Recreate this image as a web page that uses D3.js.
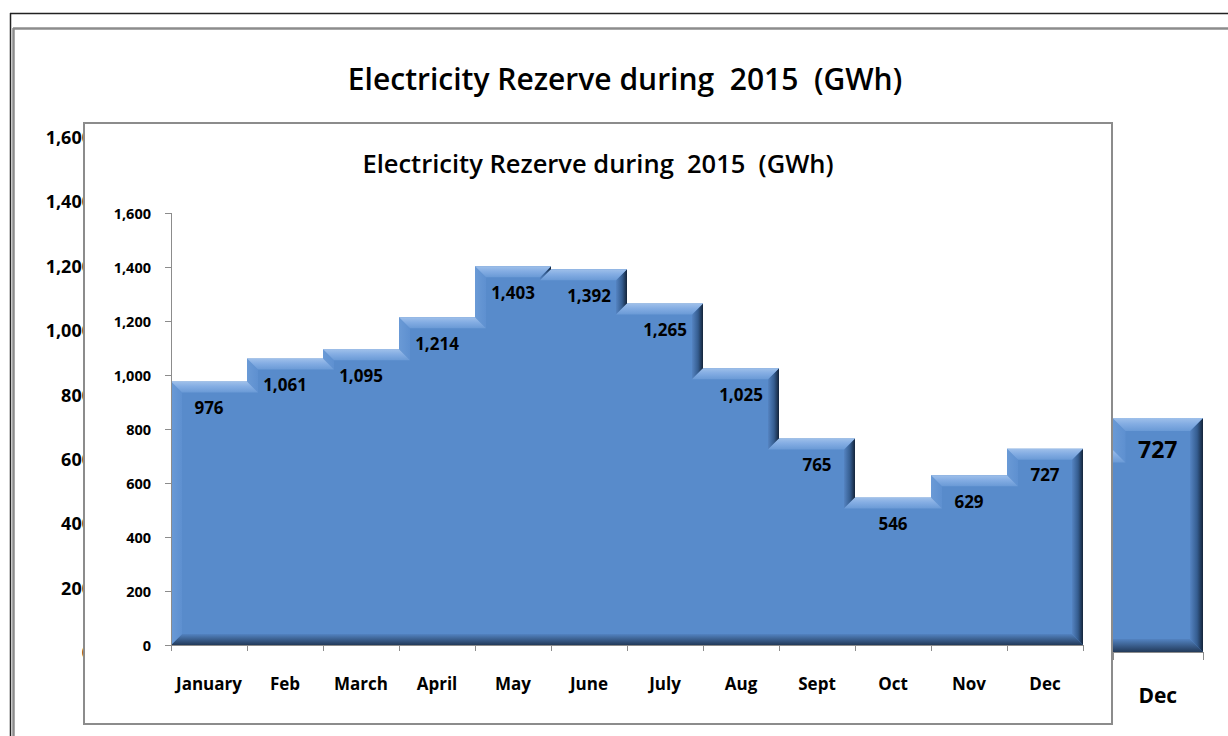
<!DOCTYPE html>
<html><head><meta charset="utf-8">
<script src="https://cdn.jsdelivr.net/npm/d3@7/dist/d3.min.js"></script>
<style>
html,body{margin:0;padding:0;background:#fff;}
svg{display:block;font-family:"Open Sans",Lato,sans-serif;}
text{white-space:pre;}
</style></head>
<body>
<svg id="c" width="1228" height="736"></svg>
<script>
const months = ["January","Feb","March","April","May","June","July","Aug","Sept","Oct","Nov","Dec"];
const reserve = [976,1061,1095,1214,1403,1392,1265,1025,765,546,629,727];
const yTicks = [0,200,400,600,800,1000,1200,1400,1600];
const titleText = "Electricity Rezerve during  2015  (GWh)";

const svg = d3.select("#c");
const defs = svg.append("defs");
function lin(id, x2, y2, stops){
  const g = defs.append("linearGradient").attr("id", id)
    .attr("x1",0).attr("y1",0).attr("x2",x2).attr("y2",y2);
  stops.forEach(s=>g.append("stop").attr("offset",s[0]).attr("stop-color",s[1]));
}
lin("gTop",0,1,[[0,"#9fc0ea"],[0.45,"#84ade3"],[1,"#6a9ad6"]]);
lin("gRight",1,0,[[0,"#5584c2"],[0.55,"#355d90"],[1,"#14243a"]]);
lin("gBottom",0,1,[[0,"#5383c1"],[1,"#223a5a"]]);
lin("gLeft",1,0,[[0,"#6a9ad6"],[1,"#5e90d0"]]);
defs.append("clipPath").attr("id","outerYClip").append("rect")
  .attr("x",0).attr("y",0).attr("width",84).attr("height",736);

const fmt = d3.format(",");
const MAIN = "#588bcb";

// frame of the inner chart: outer-chart texts that fall under it are not drawn
const innerFrame = {x:84, y:123, w:1028, h:601};
const covered = (px, py) => px > innerFrame.x && px < innerFrame.x+innerFrame.w &&
                            py > innerFrame.y && py < innerFrame.y+innerFrame.h;

function drawChart(g, o){
  const x = d3.scaleBand().domain(months).range([o.xl, o.xr]).padding(0);
  const y = d3.scaleLinear().domain([0,1600]).range([o.y0, o.y1]);
  const b = o.bevel;
  const bw = x.bandwidth();
  const Y0 = y(0);
  const data = reserve.map((v,i)=>({m:months[i], v, i}));
  const P = pts => pts.map(p=>p.join(",")).join(" ");
  const vis = o.hideCovered ? (px,py)=>!covered(px,py) : ()=>true;

  g.append("g").selectAll("rect").data(data).join("rect")
    .attr("x", d=>x(d.m)).attr("y", d=>y(d.v))
    .attr("width", bw).attr("height", d=>Y0-y(d.v))
    .attr("fill", MAIN);

  g.append("g").selectAll("polygon").data(data).join("polygon")
    .attr("fill","url(#gBottom)")
    .attr("points", d=>{
      const x0=x(d.m), x1=x0+bw;
      const l = d.i===0 ? x0+b : x0, r = d.i===data.length-1 ? x1-b : x1;
      return P([[x0,Y0],[x1,Y0],[r,Y0-b],[l,Y0-b]]);
    });

  g.append("g").selectAll("polygon").data(data.filter(d=>d.i===0 || reserve[d.i-1] < d.v)).join("polygon")
    .attr("fill","url(#gLeft)")
    .attr("points", d=>{
      const x0=x(d.m), yt=y(d.v);
      if(d.i===0) return P([[x0,yt],[x0+b,yt+b],[x0+b,Y0-b],[x0,Y0]]);
      const yp = y(reserve[d.i-1]);
      return P([[x0,yt],[x0+b,yt+b],[x0+b,yp+b],[x0,yp]]);
    });

  g.append("g").selectAll("polygon").data(data.filter(d=>d.i===data.length-1 || reserve[d.i+1] < d.v)).join("polygon")
    .attr("fill","url(#gRight)")
    .attr("points", d=>{
      const x1=x(d.m)+bw, yt=y(d.v);
      if(d.i===data.length-1) return P([[x1,yt],[x1,Y0],[x1-b,Y0-b],[x1-b,yt+b]]);
      const yn = y(reserve[d.i+1]);
      return P([[x1,yt],[x1,yn],[x1-b,yn+b],[x1-b,yt+b]]);
    });

  g.append("g").selectAll("polygon").data(data).join("polygon")
    .attr("fill","url(#gTop)")
    .attr("points", d=>{
      const x0=x(d.m), x1=x0+bw, yt=y(d.v);
      const prev = d.i>0 ? reserve[d.i-1] : null;
      const next = d.i<data.length-1 ? reserve[d.i+1] : null;
      const lb = (prev===null || prev < d.v) ? x0+b : x0-b;
      const rb = (next===null || next < d.v) ? x1-b : x1+b;
      return P([[x0,yt],[x1,yt],[rb,yt+b],[lb,yt+b]]);
    });

  g.append("g").selectAll("text").data(data.filter(d=>vis(x(d.m)+bw/2, y(d.v)+o.labOff))).join("text")
    .attr("x", d=>x(d.m)+bw/2).attr("y", d=>y(d.v)+o.labOff)
    .attr("text-anchor","middle").attr("dominant-baseline","central")
    .attr("font-size", o.labSize).attr("font-weight",700).attr("fill","#000")
    .text(d=>fmt(d.v));

  const ax = g.append("g").attr("stroke","#8c8c8c").attr("stroke-width",1).attr("fill","none");
  ax.append("line").attr("x1",o.xl+0.5).attr("x2",o.xl+0.5).attr("y1",y(1600)).attr("y2",Y0);
  ax.append("line").attr("x1",o.xl).attr("x2",o.xr).attr("y1",Y0+0.5).attr("y2",Y0+0.5);
  ax.selectAll(".yt").data(yTicks).join("line").attr("class","yt")
    .attr("x1",o.xl-o.tick).attr("x2",o.xl).attr("y1",d=>Math.round(y(d))+0.5).attr("y2",d=>Math.round(y(d))+0.5);
  const bounds = months.map(m=>x(m)).concat([o.xr]);
  ax.selectAll(".xt").data(bounds).join("line").attr("class","xt")
    .attr("x1",d=>Math.round(d)+0.5).attr("x2",d=>Math.round(d)+0.5).attr("y1",Y0).attr("y2",Y0+o.tick);

  const yl = g.append("g");
  if(o.hideCovered) yl.attr("clip-path","url(#outerYClip)");
  yl.selectAll("text").data(yTicks).join("text")
    .attr("x", o.xl-o.yLabGap).attr("y", d=>y(d))
    .attr("text-anchor","end").attr("dominant-baseline","central")
    .attr("font-size", o.yLabSize).attr("font-weight",700).attr("fill","#000")
    .text(d=>fmt(d));

  g.append("g").selectAll("text").data(months.filter(m=>vis(x(m)+bw/2, o.xLabY))).join("text")
    .attr("x", m=>x(m)+bw/2).attr("y", o.xLabY)
    .attr("text-anchor","middle").attr("dominant-baseline","central")
    .attr("font-size", o.xLabSize).attr("font-weight",700).attr("fill","#000")
    .text(m=>m);

  g.append("text").attr("x", o.titleX).attr("y", o.titleY)
    .attr("text-anchor","middle").attr("dominant-baseline","central")
    .attr("font-size", o.titleSize).attr("font-weight",600).attr("fill","#000")
    .text(titleText);
}

// page frames
svg.append("line").attr("x1",10).attr("x2",1228).attr("y1",13.5).attr("y2",13.5).attr("stroke","#222").attr("stroke-width",1.5);
svg.append("line").attr("x1",10.5).attr("x2",10.5).attr("y1",13).attr("y2",736).attr("stroke","#222").attr("stroke-width",1.5);
svg.append("line").attr("x1",13).attr("x2",1228).attr("y1",28.5).attr("y2",28.5).attr("stroke","#8c8c8c").attr("stroke-width",2.5);
svg.append("line").attr("x1",13.5).attr("x2",13.5).attr("y1",28).attr("y2",736).attr("stroke","#8c8c8c").attr("stroke-width",2.5);

// outer (background) chart
drawChart(svg.append("g"), {
  xl:117, xr:1203, y0:652, y1:137, bevel:13, tick:8, hideCovered:true,
  labOff:31, labSize:23, yLabSize:18, yLabGap:25, xLabSize:21, xLabY:695,
  titleX:625, titleY:78, titleSize:30
});

// inner chart frame
svg.append("rect").attr("x",innerFrame.x).attr("y",innerFrame.y)
  .attr("width",innerFrame.w).attr("height",innerFrame.h)
  .attr("fill","#fff").attr("stroke","#8c8c8c").attr("stroke-width",2);

drawChart(svg.append("g"), {
  xl:171, xr:1083, y0:645, y1:213, bevel:11, tick:6, hideCovered:false,
  labOff:26, labSize:17, yLabSize:14.5, yLabGap:20, xLabSize:17, xLabY:683,
  titleX:598, titleY:163, titleSize:25.5
});
</script>
</body></html>
